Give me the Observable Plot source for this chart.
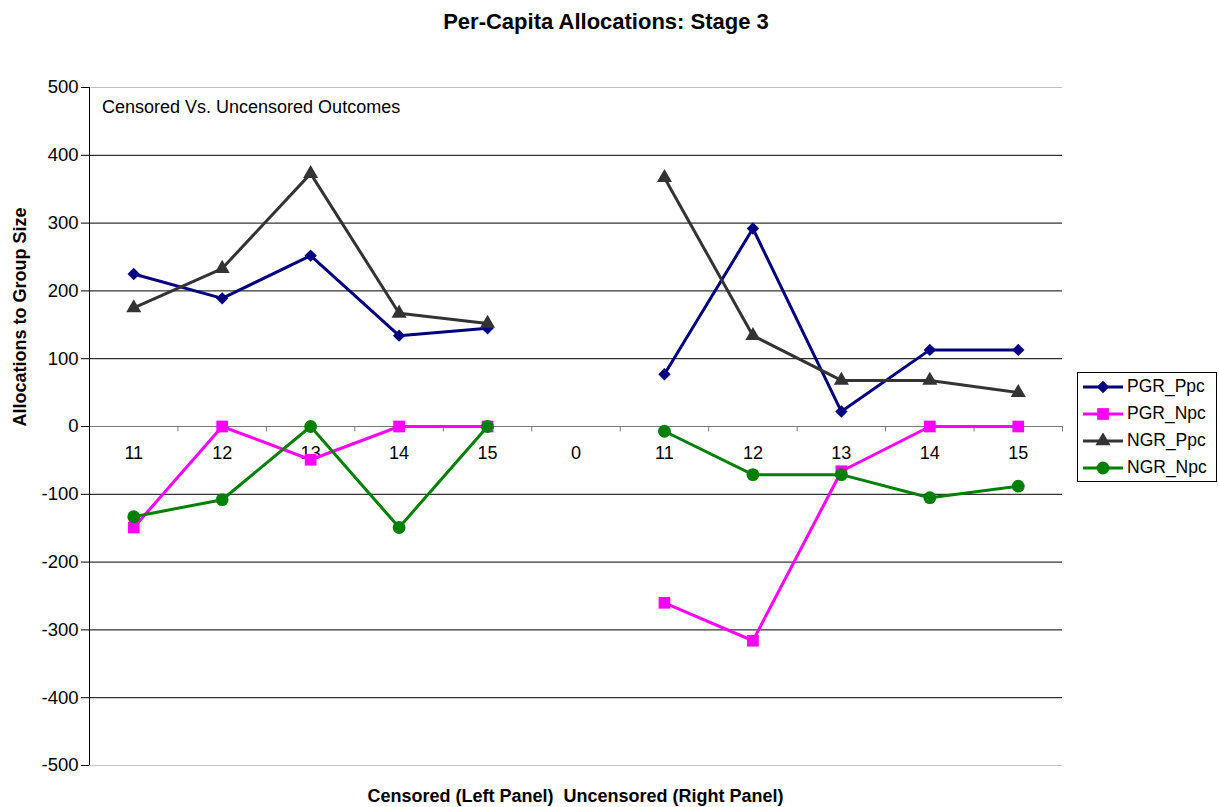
<!DOCTYPE html>
<html>
<head>
<meta charset="utf-8">
<script src="https://cdn.jsdelivr.net/npm/d3@7"></script>
<script src="https://cdn.jsdelivr.net/npm/@observablehq/plot@0.6"></script>
<style>
  html, body { margin: 0; padding: 0; background: #fff; }
  body { font-family: "Liberation Sans", Arial, sans-serif; }
  #wrap { position: relative; width: 1219px; height: 807px; overflow: hidden; }
  #chart { position: absolute; left: 0; top: 0; }
  .title { position: absolute; left: 0; width: 1212px; top: 9px; text-align: center; font-weight: bold; font-size: 22px; line-height: 26px; color: #000; }
  .xtitle { position: absolute; left: 89px; width: 973px; top: 785px; text-align: center; font-weight: bold; font-size: 18px; line-height: 22px; color: #000; }
  .note { position: absolute; left: 102px; top: 96px; font-size: 18px; line-height: 22px; color: #000; }
  #legend { position: absolute; left: 1077px; top: 372px; width: 140px; height: 110px; border: 1px solid #000; background: #fff; box-sizing: border-box; padding-top: 0px; }
  .li { display: flex; align-items: center; height: 27px; font-size: 17.5px; white-space: nowrap; }
  .li svg { margin-left: 5px; margin-right: 4px; flex: none; }
</style>
</head>
<body>
<div id="wrap">
  <div id="chart"></div>
  <div class="title">Per-Capita Allocations: Stage 3</div>
  <div class="note">Censored Vs. Uncensored Outcomes</div>
  <div class="xtitle">Censored (Left Panel)&nbsp; Uncensored (Right Panel)</div>
  <div id="legend"></div>
</div>
<script>
// ---- data ----
const categories = ["11", "12", "13", "14", "15", "0", "11", "12", "13", "14", "15"];
const PGR_Ppc = [225, 189, 252, 134, 145, null, 77, 292, 22, 113, 113];
const PGR_Npc = [-149, 0, -49, 0, 0, null, -260, -316, -66, 0, 0];
const NGR_Ppc = [175, 233, 373, 167, 152, null, 367, 134, 68, 68, 50];
const NGR_Npc = [-133, -108, 0, -149, 0, null, -7, -71, -71, -105, -88];
const seriesNames = ["PGR_Ppc", "PGR_Npc", "NGR_Ppc", "NGR_Npc"];
const seriesValues = [PGR_Ppc, PGR_Npc, NGR_Ppc, NGR_Npc];
const seriesColors = ["#000080", "#FF00FF", "#333333", "#008000"];
const seriesSymbols = ["diamond2", "square", "triangle", "circle"];
const seriesR = [5.6, 6.6, 5.6, 6.4];
const yTicks = [-500, -400, -300, -200, -100, 0, 100, 200, 300, 400, 500];

// ---- build table ----
const rows = [];
seriesNames.forEach((name, s) => {
  seriesValues[s].forEach((v, i) => {
    rows.push({series: name, idx: i + 1, cat: categories[i], value: v == null ? NaN : v});
  });
});
const catRows = categories.map((c, i) => ({idx: i + 1, cat: c}));
const boundaries = d3.range(0, categories.length + 1).map(i => i + 0.5);

const marks = [
  Plot.ruleY(yTicks.filter(t => Math.abs(t) !== 500), {stroke: "#000", strokeWidth: 1}),
  Plot.ruleY(yTicks.filter(t => Math.abs(t) === 500), {stroke: "#c0c0c0", strokeWidth: 1}),
  Plot.ruleY([0], {stroke: "#777", strokeWidth: 1}),
  Plot.ruleX(boundaries, {y1: 0, y2: -8, stroke: "#777", strokeWidth: 1}),
  Plot.ruleX([0.5], {stroke: "#000", strokeWidth: 1}),
  Plot.axisY({ticks: yTicks, tickSize: 8, tickPadding: 3, label: null, fontSize: 18.5, tickFormat: d => String(d)}),
  Plot.text(catRows, {x: "idx", y: 0, text: "cat", dy: 27, fontSize: 18, fill: "#000"}),
  Plot.text(["Allocations to Group Size"], {frameAnchor: "left", dx: -69, rotate: -90, text: d => d, fontWeight: "bold", fontSize: 18, fill: "#000"})
];
seriesNames.forEach((name, s) => {
  const data = rows.filter(r => r.series === name);
  marks.push(Plot.line(data, {x: "idx", y: "value", stroke: seriesColors[s], strokeWidth: 3}));
  marks.push(Plot.dot(data.filter(d => Number.isFinite(d.value)), {x: "idx", y: "value", symbol: () => seriesSymbols[s], r: seriesR[s], fill: seriesColors[s], stroke: "none"}));
});

const chart = Plot.plot({
  width: 1219,
  height: 807,
  marginLeft: 89,
  marginRight: 157,
  marginTop: 87,
  marginBottom: 42,
  style: {fontFamily: "'Liberation Sans', Arial, sans-serif", fontSize: "18px", background: "#fff", color: "#000"},
  x: {type: "linear", domain: [0.5, categories.length + 0.5], axis: null},
  y: {domain: [-500, 500], axis: null},
  symbol: {type: "identity"},
  marks
});
document.getElementById("chart").appendChild(chart);

// ---- legend ----
const legend = document.getElementById("legend");
seriesNames.forEach((name, s) => {
  const div = document.createElement("div");
  div.className = "li";
  const sym = d3.symbol(
    {diamond2: d3.symbolDiamond2, square: d3.symbolSquare, triangle: d3.symbolTriangle, circle: d3.symbolCircle}[seriesSymbols[s]],
    Math.PI * seriesR[s] * seriesR[s]
  )();
  div.innerHTML = `<svg width="40" height="16"><line x1="0" x2="40" y1="8" y2="8" stroke="${seriesColors[s]}" stroke-width="3"/><path transform="translate(20,8)" d="${sym}" fill="${seriesColors[s]}"/></svg><span>${name}</span>`;
  legend.appendChild(div);
});
</script>
</body>
</html>
